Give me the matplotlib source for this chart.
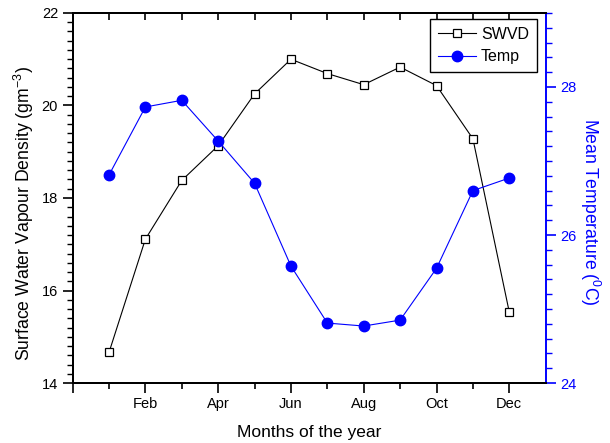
#!/usr/bin/env python
import numpy as np
import matplotlib.pyplot as plt
from matplotlib.ticker import MultipleLocator, FixedLocator, NullFormatter

plt.rcParams['font.family'] = ['Liberation Sans', 'DejaVu Sans']
plt.rcParams['mathtext.fontset'] = 'custom'
plt.rcParams['mathtext.rm'] = 'Liberation Sans'
plt.rcParams['mathtext.it'] = 'Liberation Sans'

months = np.arange(1, 13)
tick_labels = ['Feb', 'Apr', 'Jun', 'Aug', 'Oct', 'Dec']
swvd = [14.66, 17.11, 18.38, 19.13, 20.25, 21.00, 20.69, 20.45, 20.83, 20.43, 19.28, 15.53]
temp = [26.81, 27.73, 27.82, 27.27, 26.70, 25.58, 24.81, 24.77, 24.85, 25.55, 26.60, 26.77]

fig = plt.figure(figsize=(6.1, 4.43), dpi=100)
ax = fig.add_axes([0.119, 0.1354, 0.7756, 0.8353])
ax2 = ax.twinx()

l1, = ax.plot(months, swvd, color='black', lw=0.8, marker='s', markersize=5.5,
              mfc='white', mec='black', mew=0.9, label='SWVD', zorder=3)
l2, = ax2.plot(months, temp, color='blue', lw=0.8, marker='o', markersize=7.5,
               mfc='blue', mec='blue', label='Temp', zorder=3)

ax.set_xlim(0, 13)
ax.set_ylim(14, 22)
ax2.set_ylim(24, 29)

ax.xaxis.set_major_locator(FixedLocator([0, 2, 4, 6, 8, 10, 12]))
ax.set_xticklabels([''] + tick_labels)
ax.xaxis.set_minor_locator(FixedLocator([1, 3, 5, 7, 9, 11]))
ax.yaxis.set_major_locator(MultipleLocator(2))
ax.yaxis.set_minor_locator(MultipleLocator(0.2))
ax2.yaxis.set_major_locator(FixedLocator([24, 26, 28]))
ax2.yaxis.set_minor_locator(MultipleLocator(0.2))

ax.tick_params(axis='x', which='major', direction='out', length=7, width=1.2,
               labelsize=10.5, pad=3)
ax.tick_params(axis='x', which='minor', direction='out', length=4, width=1.2)
ax.tick_params(axis='y', which='major', direction='out', length=7, width=1.2,
               labelsize=10.5, right=False)
ax.tick_params(axis='y', which='minor', direction='out', length=4, width=1.0, right=False)
ax2.tick_params(axis='y', which='major', direction='out', length=7, width=1.2,
                labelsize=10.5, colors='blue')
ax2.tick_params(axis='y', which='minor', direction='out', length=4, width=1.0, colors='blue')

# top axis: ticks pointing inwards, no labels
top = ax.secondary_xaxis('top')
top.xaxis.set_major_locator(FixedLocator(months))
top.xaxis.set_major_formatter(NullFormatter())
top.tick_params(axis='x', direction='in', length=5, width=1.2)
top.spines['top'].set_linewidth(1.4)

for s in ['left', 'bottom', 'top']:
    ax.spines[s].set_linewidth(1.4)
    ax2.spines[s].set_linewidth(1.4)
ax2.spines['right'].set_color('blue')
ax2.spines['right'].set_linewidth(1.4)
ax.spines['right'].set_visible(False)

ax.set_xlabel('Months of the year', fontsize=12.5)
ax.xaxis.set_label_coords(0.5, -0.135)
ax.xaxis.label.set_va('center')

ax.set_ylabel('Surface Water Vapour Density (gm$^{-3}$)', fontsize=12.7)
ax.yaxis.set_label_coords(-0.103, 0.457)
ax.yaxis.label.set_rotation_mode('default')
ax.yaxis.label.set_va('center')
ax.yaxis.label.set_ha('center')

ax2.set_ylabel('Mean Temperature ($^{0}$C)', fontsize=12.7, color='blue', rotation=270)
ax2.yaxis.set_label_coords(1.093, 0.463)
ax2.yaxis.label.set_rotation_mode('default')
ax2.yaxis.label.set_va('center')
ax2.yaxis.label.set_ha('center')

leg = ax2.legend([l1, l2], ['SWVD', 'Temp'], loc='upper right', fontsize=11.5,
                 frameon=True, fancybox=False, edgecolor='black', framealpha=1,
                 handlelength=2.4, handletextpad=0.3, borderpad=0.5,
                 labelspacing=0.45, borderaxespad=0,
                 bbox_to_anchor=(0.9816, 0.9838))
leg.get_frame().set_linewidth(1.0)

fig.savefig('out.png', dpi=100)
